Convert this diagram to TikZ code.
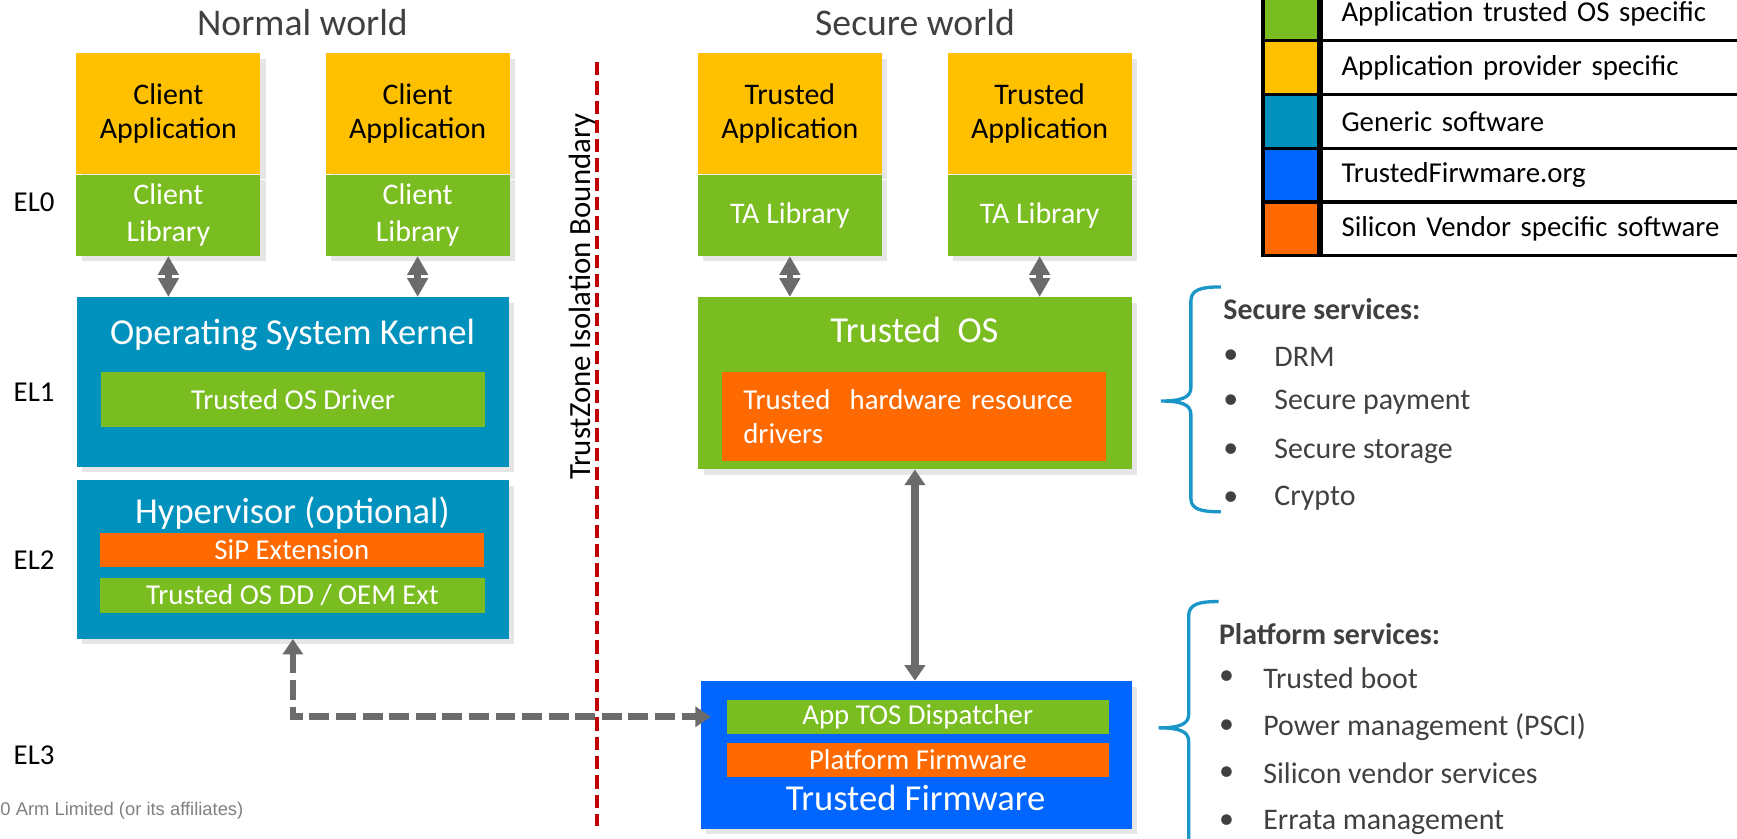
\documentclass[tikz,border=0pt]{standalone}
\usepackage{fontspec}
\setmainfont{Carlito}
\newfontfamily\footfont{Liberation Sans}
\usetikzlibrary{arrows.meta,positioning,shadows}
\definecolor{appyellow}{HTML}{FFC000}
\definecolor{tosgreen}{HTML}{7ABD21}
\definecolor{genblue}{HTML}{0091BD}
\definecolor{tfblue}{HTML}{0066FF}
\definecolor{sivorange}{HTML}{FF6A00}
\definecolor{arrowgray}{HTML}{6B6B6B}
\definecolor{tzred}{HTML}{C00000}
\definecolor{bracecol}{HTML}{1A96C8}
\definecolor{titlegray}{HTML}{404040}
\tikzset{
boxshadow/.style={drop shadow={opacity=.2,shadow xshift=2.5pt,shadow yshift=-2.5pt}},
app/.style={fill=appyellow,minimum width=83pt,minimum height=54.5pt,inner sep=0pt,align=center,font=\fontsize{13.5}{15}\selectfont,boxshadow},
lib/.style={fill=tosgreen,text=white,minimum width=83pt,minimum height=36.5pt,inner sep=0pt,align=center,font=\fontsize{13.5}{16.5}\selectfont,boxshadow},
layer/.style={anchor=north west,inner sep=0pt,boxshadow},
layertitle/.style={text=white,inner sep=0pt,font=\fontsize{16.5}{19}\selectfont},
strip/.style={minimum width=173.5pt,inner sep=0pt,text=white,font=\fontsize{13}{15.5}\selectfont},
world/.style={text=titlegray,inner sep=0pt,font=\fontsize{17}{20}\selectfont},
elabel/.style={anchor=west,inner sep=0pt,font=\fontsize{13}{15}\selectfont},
swatch/.style={draw,line width=1.5pt,minimum width=25pt,minimum height=24.25pt,inner sep=0pt},
keycell/.style={draw,line width=1.5pt,minimum height=24.25pt,text width=180pt,inner xsep=9pt,inner ysep=0pt,align=left,font=\fontsize{13}{15}\selectfont},
listhead/.style={anchor=west,inner sep=0pt,text=titlegray,font=\fontsize{13.5}{16}\selectfont\bfseries},
listitem/.style={anchor=west,inner sep=0pt,text=titlegray,font=\fontsize{13.5}{16}\selectfont},
shortarrow/.style={arrowgray,line width=3pt,{Triangle[width=9pt,length=8.5pt]}-{Triangle[width=9pt,length=8.5pt]}},
biarrow/.style={arrowgray,line width=3.5pt,{Triangle[width=9pt,length=7pt]}-{Triangle[width=9pt,length=7pt]}},
dasharrow/.style={arrowgray,line width=3pt,dash pattern=on 9pt off 3pt,{Triangle[width=9pt,length=7pt]}-{Triangle[width=9pt,length=7pt]}},
boundary/.style={tzred,line width=2pt,dash pattern=on 6pt off 2.7pt},
brace/.style={bracecol,line width=1.5pt}
}
\begin{document}
\begin{tikzpicture}[x=0.5pt,y=-0.5pt]
\useasboundingbox (0,0) rectangle (1568,757);
\clip (0,0) rectangle (1568,757);
\node[world](nw) at (273,20){Normal world};
\node[world](sw) at (826,20){Secure world};
\node[app](capp1) at (152,102.5){Client\\Application};
\node[lib,below=0pt of capp1](clib1){Client\\Library};
\node[app](capp2) at (377,102.5){Client\\Application};
\node[lib,below=0pt of capp2](clib2){Client\\Library};
\node[app](tapp1) at (713,102.5){Trusted\\Application};
\node[lib,below=0pt of tapp1](tlib1){TA Library};
\node[app](tapp2) at (938.5,102.5){Trusted\\Application};
\node[lib,below=0pt of tapp2](tlib2){TA Library};
\node[layer,fill=genblue,minimum width=195pt,minimum height=76.5pt](kernel) at (69,268){};
\node[layertitle](kernelt) at (264,302){Operating System Kernel};
\node[strip,fill=tosgreen,minimum height=24.5pt](tosdrv) at (264.5,360.5){Trusted OS Driver};
\node[layer,fill=genblue,minimum width=195pt,minimum height=71.5pt](hyp) at (69,433){};
\node[layertitle](hypt) at (264,463){Hypervisor (optional)};
\node[strip,fill=sivorange,minimum height=15.5pt](sip) at (263.5,496.5){SiP Extension};
\node[strip,fill=tosgreen,minimum height=15.5pt](tosdd) at (264,537.5){Trusted OS DD / OEM Ext};
\node[layer,fill=tosgreen,minimum width=195.5pt,minimum height=77.5pt](tos) at (630,268){};
\node[layertitle](tost) at (825.5,298){Trusted\ \ OS};
\node[strip,fill=sivorange,minimum height=40pt,text width=154pt,inner xsep=9.5pt,align=left](hwdrv) at (825,376){Trusted\ \ hardware resource\\drivers};
\node[layer,fill=tfblue,minimum width=194.5pt,minimum height=66.5pt](tf) at (632,614.5){};
\node[strip,fill=tosgreen,minimum width=172.5pt,minimum height=15.25pt](disp) at (828.5,647){App TOS Dispatcher};
\node[strip,fill=sivorange,minimum width=172.5pt,minimum height=15pt](pfw) at (828.5,686){Platform Firmware};
\node[layertitle](tft) at (826.5,720){Trusted Firmware};
\node[elabel](el0) at (12,183){EL0};
\node[elabel](el1) at (12,354){EL1};
\node[elabel](el2) at (12,506){EL2};
\node[elabel](el3) at (12,682){EL3};
\node[anchor=west,inner sep=0pt,text=gray,font=\footfont\fontsize{8.3}{10}\selectfont](copy) at (0,732){0 Arm Limited (or its affiliates)};
\coordinate(tztop) at (539,56);\coordinate(tzbot) at (539,746);
\draw[boundary](tztop)--(tzbot);
\node[rotate=90,inner sep=0pt,font=\fontsize{13.9}{16}\selectfont](tzlabel) at (526,268){TrustZone Isolation Boundary};
\draw[shortarrow](clib1.south)--(clib1.south|-kernel.north);\draw[shortarrow](clib2.south)--(clib2.south|-kernel.north);
\draw[shortarrow](tlib1.south)--(tlib1.south|-tos.north);\draw[shortarrow](tlib2.south)--(tlib2.south|-tos.north);
\draw[biarrow](tos.south)--(tos.south|-tf.north);
\draw[dasharrow,shorten >=7pt](hyp.south)|-(disp.west);
\foreach \i/\y/\c/\t in {1/12.5/tosgreen/Application trusted OS specific,2/61/appyellow/Application provider specific,3/109.5/genblue/Generic software,4/158/tfblue/TrustedFirwmare.org,5/206.5/sivorange/Silicon Vendor specific software}{
\node[swatch,fill=\c](key\i) at (1165,\y){};
\node[keycell,right=0pt of key\i](keyt\i){\t};
}
\draw[brace](1102,259) .. controls (1085,259) and (1075,261) .. (1075,272)--(1075,350) .. controls (1075,359) and (1066,362) .. (1048,362) .. controls (1066,362) and (1075,365) .. (1075,374)--(1075,450) .. controls (1075,460) and (1085,462) .. (1102,462);
\node[listhead](sshead) at (1104,279){Secure services:};
\foreach \y/\t in {322/DRM,363/Secure payment,407/Secure storage,450/Crypto}{
\node[listitem](sb\y) at (1104,\y){•};\node[listitem](si\y) at (1150,\y){\t};
}
\draw[brace](1100,543) .. controls (1083,543) and (1073,545) .. (1073,556)--(1073,645) .. controls (1073,654) and (1064,657) .. (1046,657) .. controls (1064,657) and (1073,660) .. (1073,669)--(1073,770);
\node[listhead](pshead) at (1100,572){Platform services:};
\foreach \y/\t in {612/Trusted boot,656/Power management (PSCI),698/Silicon vendor services,742/Errata management}{
\node[listitem](pb\y) at (1100,\y){•};\node[listitem](pi\y) at (1140,\y){\t};
}
\end{tikzpicture}
\end{document}
